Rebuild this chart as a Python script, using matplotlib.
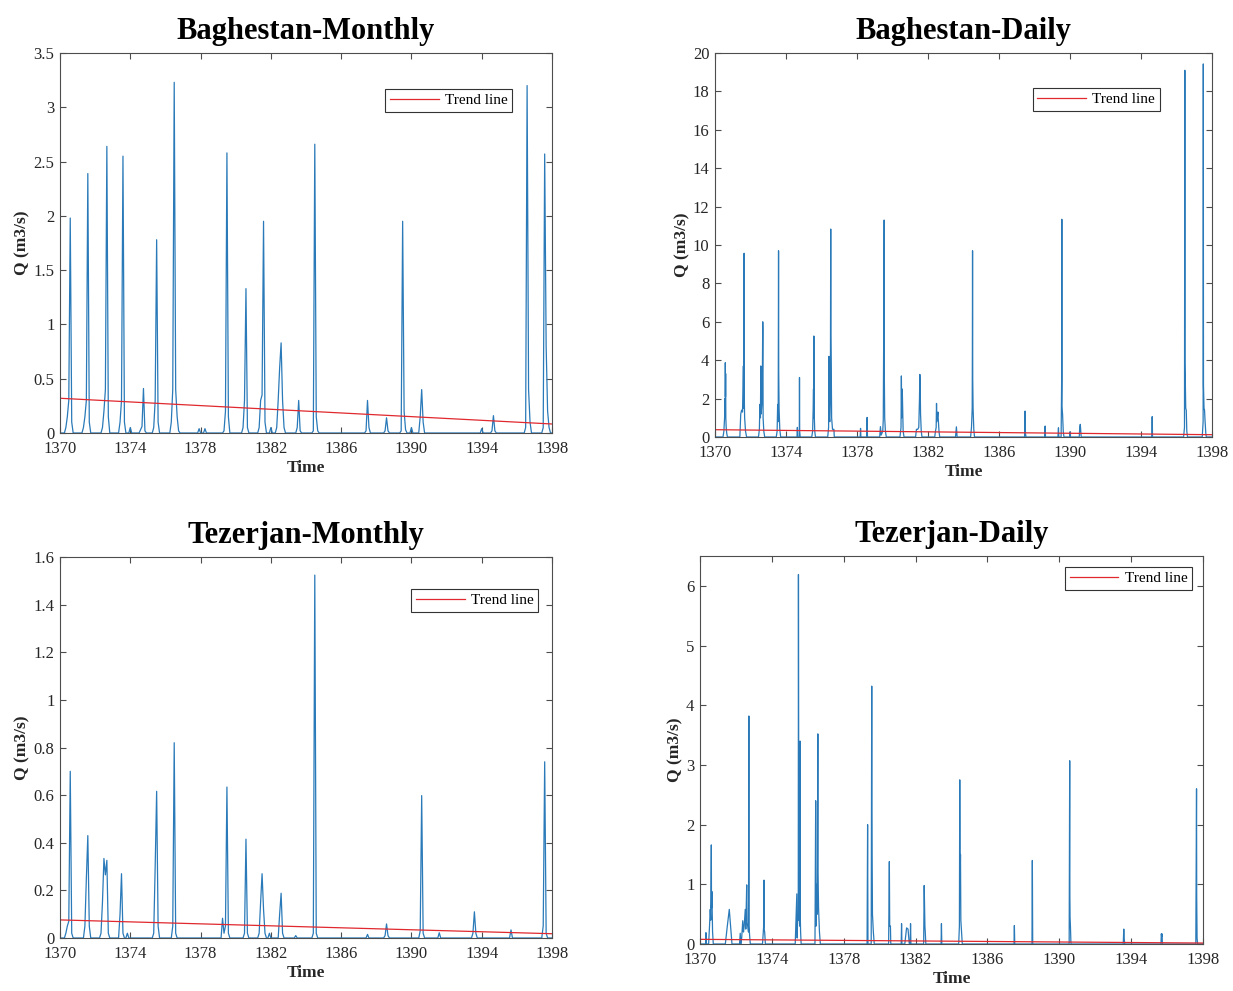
import numpy as np
import matplotlib
matplotlib.use("Agg")
import matplotlib.pyplot as plt
from matplotlib.ticker import FuncFormatter

plt.rcParams['font.family'] = ['Liberation Serif', 'DejaVu Serif']

# ---------------- DATA ----------------
years_ticks = [1370, 1374, 1378, 1382, 1386, 1390, 1394, 1398]
start_year = 1370
n_months = 336

# Baghestan monthly: nonzero month indices (months after start of 1370) and values
bm_idx = [4, 5, 6, 7, 8, 16, 17, 18, 19, 20, 29, 30, 31, 32, 33, 41, 42, 43, 44, 48,
          55, 56, 57, 58, 64, 65, 66, 67, 76, 77, 78, 79, 80, 81, 95, 99,
          112, 113, 114, 115, 125, 126, 127, 128, 136, 137, 138, 139, 140, 144,
          148, 149, 150, 151, 152, 153, 162, 163, 164, 173, 174, 175, 176,
          209, 210, 211, 222, 223, 224, 233, 234, 235, 236, 240, 246, 247, 248,
          288, 295, 296, 297, 318, 319, 320, 321, 330, 331, 332, 333, 334]
bm_val = [0.05, 0.15, 0.3, 1.98, 0.1, 0.05, 0.15, 0.3, 2.39, 0.1, 0.05, 0.2, 0.4, 2.64, 0.15,
          0.1, 0.3, 2.55, 0.1, 0.05,
          0.03, 0.06, 0.41, 0.02, 0.05, 0.3, 1.78, 0.1, 0.1, 0.4, 3.23, 0.4, 0.15, 0.02, 0.04, 0.04,
          0.02, 0.2, 2.58, 0.15, 0.05, 0.3, 1.33, 0.05, 0.05, 0.3, 0.35, 1.95, 0.1, 0.05,
          0.05, 0.3, 0.6, 0.83, 0.3, 0.05, 0.05, 0.30, 0.02, 0.02, 2.66, 0.15, 0.02,
          0.02, 0.30, 0.05, 0.02, 0.14, 0.02, 0.02, 1.95, 0.2, 0.03, 0.05, 0.15, 0.40, 0.1,
          0.04, 0.02, 0.16, 0.02, 0.05, 3.2, 0.4, 0.1, 0.05, 2.57, 0.8, 0.2, 0.05]
bm_trend = [0.32, 0.083]

# Tezerjan monthly
tm_idx = [4, 5, 6, 7, 8, 17, 18, 19, 20, 28, 29, 30, 31, 32, 33, 41, 42, 43, 46,
          64, 65, 66, 67, 77, 78, 79, 111, 112, 113, 114, 115, 126, 127, 128,
          136, 137, 138, 139, 140, 143, 150, 151, 152, 161, 173, 174, 175, 210,
          222, 223, 224, 246, 247, 248, 259, 282, 283, 284, 308, 330, 331, 332]
tm_val = [0.02, 0.05, 0.07, 0.70, 0.02, 0.05, 0.25, 0.43, 0.05, 0.02, 0.15, 0.334, 0.265, 0.326, 0.02,
          0.1, 0.27, 0.02, 0.02,
          0.02, 0.3, 0.616, 0.05, 0.05, 0.82, 0.02, 0.083, 0.02, 0.05, 0.634, 0.02, 0.02, 0.415, 0.02,
          0.02, 0.15, 0.27, 0.12, 0.02, 0.02, 0.1, 0.188, 0.02, 0.01, 0.02, 1.524, 0.02, 0.015,
          0.01, 0.059, 0.01, 0.03, 0.598, 0.02, 0.022, 0.02, 0.11, 0.02, 0.034, 0.05, 0.74, 0.02]
tm_trend = [0.076, 0.018]

# Baghestan daily: sample times (decimal years) and discharge
bd_t = [1370.0,
        1370.45, 1370.50, 1370.54, 1370.56, 1370.575, 1370.58, 1370.59, 1370.60, 1370.61, 1370.63, 1370.66, 1370.70,
        1371.40, 1371.45, 1371.50, 1371.55, 1371.60, 1371.62, 1371.64, 1371.65, 1371.67, 1371.72, 1371.78,
        1372.45, 1372.50, 1372.53, 1372.56, 1372.58, 1372.60, 1372.66, 1372.69, 1372.70, 1372.71, 1372.75, 1372.80,
        1373.45, 1373.50, 1373.53, 1373.56, 1373.58, 1373.59, 1373.61, 1373.65, 1373.70,
        1374.62, 1374.64, 1374.66, 1374.75, 1374.76, 1374.77, 1374.80,
        1375.45, 1375.50, 1375.53, 1375.55, 1375.56, 1375.57, 1375.58, 1375.62, 1375.66,
        1376.35, 1376.40, 1376.42, 1376.44, 1376.47, 1376.50, 1376.52, 1376.53, 1376.55, 1376.57, 1376.62, 1376.70, 1376.72,
        1378.18, 1378.20, 1378.22, 1378.55, 1378.57, 1378.59,
        1379.28, 1379.32, 1379.36, 1379.45, 1379.48, 1379.52, 1379.53, 1379.54, 1379.56, 1379.60, 1379.65,
        1380.42, 1380.48, 1380.50, 1380.52, 1380.55, 1380.57, 1380.60, 1380.65,
        1381.30, 1381.35, 1381.42, 1381.48, 1381.52, 1381.54, 1381.56, 1381.58, 1381.62, 1381.66,
        1382.38, 1382.42, 1382.46, 1382.48, 1382.50, 1382.56, 1382.58, 1382.62, 1382.66,
        1383.55, 1383.60, 1383.64,
        1384.40, 1384.45, 1384.49, 1384.50, 1384.51, 1384.52, 1384.54, 1384.58, 1384.62,
        1387.44, 1387.47, 1387.49, 1387.52,
        1388.57, 1388.60, 1388.62,
        1389.32, 1389.35, 1389.37, 1389.50, 1389.53, 1389.54, 1389.55, 1389.58, 1389.62, 1389.66,
        1389.98, 1390.00, 1390.02,
        1390.52, 1390.55, 1390.58, 1390.60, 1390.63,
        1394.61, 1394.63, 1394.65,
        1396.40, 1396.45, 1396.47, 1396.48, 1396.50, 1396.52, 1396.55, 1396.58, 1396.62,
        1397.45, 1397.50, 1397.51, 1397.52, 1397.55, 1397.58, 1397.60, 1397.65, 1397.68,
        1398.0]
bd_q = [0.0,
        0, 0.3, 1.0, 2.0, 1.2, 3.87, 2.1, 3.3, 1.0, 0.5, 0.2, 0,
        0, 1.2, 1.4, 1.3, 3.7, 1.5, 9.57, 2.0, 1.0, 0.3, 0,
        0, 0.4, 1.7, 1.0, 3.7, 1.2, 2.0, 6.0, 5.6, 1.0, 0.3, 0,
        0, 0.3, 1.7, 0.8, 9.7, 3.4, 1.5, 0.4, 0,
        0, 0.5, 0, 0, 3.1, 0.3, 0,
        0, 0.3, 1.4, 2.5, 1.0, 5.26, 1.5, 0.3, 0,
        0, 0.5, 4.2, 1.0, 0.8, 2.0, 10.83, 5.3, 3.6, 1.0, 0.4, 0.4, 0,
        0, 0.45, 0, 0, 1.02, 0,
        0, 0.54, 0.1, 0.3, 0.9, 8.1, 11.3, 3.2, 1.0, 0.3, 0,
        0, 0.5, 3.18, 1.0, 2.5, 1.5, 0.3, 0,
        0, 0.4, 0.4, 0.5, 2.0, 3.26, 2.7, 1.2, 0.3, 0,
        0, 0.3, 0.5, 1.75, 0.8, 1.3, 0.9, 0.3, 0,
        0, 0.53, 0,
        0, 0.5, 1.5, 4.36, 9.7, 3.0, 1.5, 0.4, 0,
        0, 1.35, 0.2, 0,
        0, 0.57, 0,
        0, 0.48, 0, 0, 3.0, 11.34, 1.6, 1.2, 0.3, 0,
        0, 0.27, 0,
        0, 0.5, 0.66, 0.4, 0,
        0, 1.06, 0,
        0, 0.5, 19.1, 3.9, 2.5, 1.5, 1.4, 0.3, 0,
        0, 0.8, 19.43, 2.7, 1.5, 1.4, 1.0, 0.2, 0,
        0.0]
bd_trend = [0.38, 0.12]

# Tezerjan daily
td_t = [1370.0,
        1370.31, 1370.33, 1370.35,
        1370.48, 1370.53, 1370.57, 1370.60, 1370.63, 1370.64, 1370.66, 1370.70, 1370.74,
        1371.41, 1371.52, 1371.63, 1371.70, 1371.78,
        1372.20, 1372.24, 1372.27, 1372.32, 1372.38, 1372.42, 1372.46, 1372.52, 1372.55, 1372.60,
        1372.62, 1372.66, 1372.70, 1372.72, 1372.73, 1372.76, 1372.80,
        1373.48, 1373.52, 1373.54, 1373.56, 1373.57, 1373.60, 1373.64,
        1375.30, 1375.39, 1375.41, 1375.44, 1375.47, 1375.48, 1375.50, 1375.52, 1375.55, 1375.57, 1375.58, 1375.60, 1375.63,
        1376.40, 1376.44, 1376.46, 1376.50, 1376.53, 1376.56, 1376.57, 1376.60, 1376.65, 1376.70,
        1379.30, 1379.33, 1379.35, 1379.53, 1379.56, 1379.57, 1379.60, 1379.65, 1379.70,
        1380.50, 1380.54, 1380.56, 1380.60, 1380.62,
        1381.20, 1381.22, 1381.24, 1381.40, 1381.50, 1381.58, 1381.65, 1381.70, 1381.72, 1381.74,
        1382.45, 1382.48, 1382.50, 1382.52, 1382.54, 1382.57,
        1383.42, 1383.44, 1383.46,
        1384.40, 1384.44, 1384.46, 1384.47, 1384.48, 1384.50, 1384.52, 1384.56, 1384.60,
        1387.48, 1387.50, 1387.52,
        1388.48, 1388.50, 1388.52,
        1390.55, 1390.58, 1390.59, 1390.60, 1390.62, 1390.65,
        1393.56, 1393.59, 1393.61, 1393.64,
        1395.66, 1395.68, 1395.70, 1395.72, 1395.74,
        1397.60, 1397.64, 1397.65, 1397.67, 1397.70,
        1398.0]
td_q = [0.0,
        0, 0.19, 0,
        0, 0.3, 0.58, 0.4, 1.66, 0.6, 0.88, 0.2, 0,
        0, 0.3, 0.58, 0.3, 0,
        0, 0.18, 0, 0.1, 0.39, 0.2, 0.3, 0.58, 0.25, 0.99,
        0.35, 0.3, 0.2, 3.82, 0.3, 0.15, 0,
        0, 0.2, 0.28, 1.07, 0.25, 0.2, 0,
        0, 0.84, 0.1, 0.5, 0.4, 6.19, 1.8, 0.5, 0.3, 3.4, 0.5, 0.2, 0,
        0, 2.4, 0.3, 1.0, 0.5, 3.52, 1.2, 0.6, 0.2, 0,
        0, 2.0, 0, 0, 4.32, 2.25, 0.5, 0.2, 0,
        0, 1.38, 0.3, 0.3, 0,
        0, 0.34, 0, 0, 0.27, 0.25, 0, 0, 0.34, 0,
        0, 0.98, 0.6, 0.3, 0.2, 0,
        0, 0.34, 0,
        0, 0.3, 2.75, 1.85, 1.0, 1.5, 0.4, 0.2, 0,
        0, 0.31, 0,
        0, 1.4, 0,
        0, 3.07, 0.8, 0.45, 0.3, 0,
        0, 0.25, 0.1, 0,
        0, 0.17, 0.12, 0.17, 0,
        0, 2.6, 0.8, 0.1, 0,
        0.0]
td_trend = [0.078, 0.016]

titles = ["Baghestan-Monthly", "Baghestan-Daily", "Tezerjan-Monthly", "Tezerjan-Daily"]
ylims = [(0, 3.5), (0, 20), (0, 1.6), (0, 6.5)]
ysteps = [0.5, 2, 0.2, 1]
ymaxtick = [3.5, 20, 1.6, 6]

# ---------------- PLOT ----------------
BLUE = '#2a7ab9'
RED = '#e0282e'
AXC = '#4d4d4d'
TXT = '#262626'

def monthly_series(idx, val):
    q = np.zeros(n_months + 1)
    q[np.array(idx)] = val
    t = start_year + np.arange(n_months + 1) / 12.0
    return t, q

fig = plt.figure(figsize=(12.33, 9.91), dpi=100)
W, H = 1233.0, 991.0
rects = [(60, 53, 552, 433), (715, 53, 1212, 437), (60, 557, 552, 938), (700, 556, 1203, 944)]
legend_anchor = [(0.919, 0.905), (0.895, 0.909), (0.972, 0.916), (0.978, 0.972)]

series = [monthly_series(bm_idx, bm_val), (np.array(bd_t), np.array(bd_q)),
          monthly_series(tm_idx, tm_val), (np.array(td_t), np.array(td_q))]
trends = [bm_trend, bd_trend, tm_trend, td_trend]

for k in range(4):
    l, tp, r, b = rects[k]
    ax = fig.add_axes([l / W, 1 - b / H, (r - l) / W, (b - tp) / H])
    t, q = series[k]
    ax.plot(t, q, color=BLUE, lw=0.9)
    tr, = ax.plot([1370, 1398], trends[k], color=RED, lw=0.9, label='Trend line')
    ax.set_xlim(1370, 1398)
    ax.set_ylim(*ylims[k])
    ax.set_xticks(years_ticks)
    yt = np.arange(0, ymaxtick[k] + 1e-9, ysteps[k])
    ax.set_yticks(yt)
    ax.yaxis.set_major_formatter(FuncFormatter(lambda v, p: ('%g' % round(v, 3))))
    ax.tick_params(direction='in', top=True, right=True, length=4, width=0.8,
                   color=AXC, labelcolor=TXT, labelsize=12)
    ax.tick_params(axis='x', pad=6)
    ax.tick_params(axis='y', pad=4)
    for s in ax.spines.values():
        s.set_color(AXC)
        s.set_linewidth(0.8)
    ax.set_title(titles[k], fontsize=22, fontweight='bold', pad=10, color='black')
    ax.set_xlabel('Time', fontsize=12.5, fontweight='bold', color=TXT, labelpad=2)
    ax.set_ylabel('Q (m3/s)', fontsize=12.5, fontweight='bold', color=TXT, labelpad=2)
    leg = ax.legend(handles=[tr], loc='upper right', bbox_to_anchor=legend_anchor[k],
                    fontsize=11, frameon=True, fancybox=False, edgecolor='#333333',
                    framealpha=1, handlelength=3.2, borderpad=0.3, handletextpad=0.4,
                    borderaxespad=0)
    leg.get_frame().set_linewidth(0.8)

fig.savefig('out.png', dpi=100)
